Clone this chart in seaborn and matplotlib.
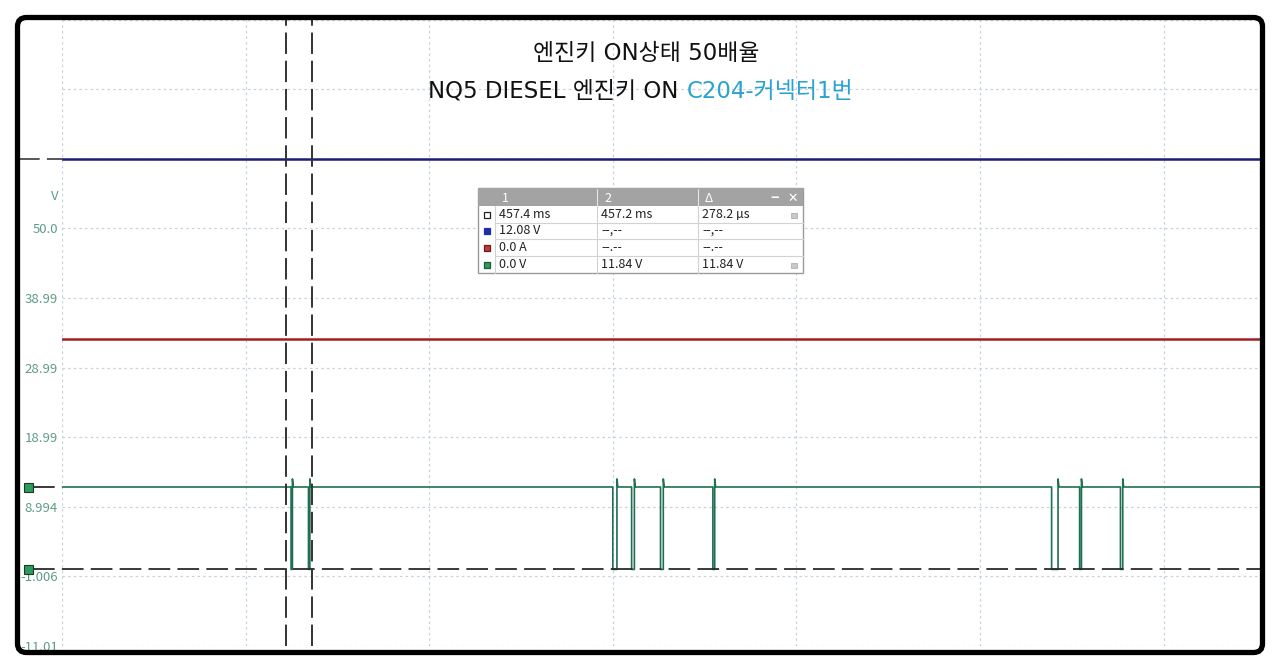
import matplotlib
matplotlib.use("Agg")
import matplotlib.pyplot as plt
from matplotlib.patches import FancyBboxPatch, Rectangle
import numpy as np
import pandas as pd
import seaborn as sns

# ---------------- data ----------------
title_line1 = "엔진키 ON상태 50배율"
title_line2_black = "NQ5 DIESEL 엔진키 ON"
title_line2_blue = "C204-커넥터1번"

time_span_ms = [0.0, 13.05]
blue_level = [58.99, 58.99]
red_level = [33.1, 33.1]
green_high = 11.84
green_low = 0.0
green_overshoot = 13.0
pulse_start_ms = [2.495, 2.685, 6.000, 6.205, 6.520, 7.090, 10.780, 11.085, 11.530]
pulse_end_ms = [2.510, 2.700, 6.045, 6.235, 6.550, 7.110, 10.850, 11.105, 11.555]
cursor_ms = [2.445, 2.723]

ytick_values = [-11.006, -1.006, 8.994, 18.994, 28.994, 38.994, 48.994, 58.994, 68.994, 78.994]
ytick_labels = ["-11.01", "-1.006", "8.994", "18.99", "28.99", "38.99", "50.0", "", "", ""]
xtick_ms = [0, 2, 4, 6, 8, 10, 12]

table_header = ["1", "2", "Δ"]
table_rows = [
    ["457.4 ms", "457.2 ms", "278.2 µs"],
    ["12.08 V", "--,--", "--,--"],
    ["0.0 A", "--.--", "--.--"],
    ["0.0 V", "11.84 V", "11.84 V"],
]

# ---------------- style ----------------
sns.set_style("white")
plt.rcParams['font.family'] = ['DejaVu Sans', 'Noto Sans CJK KR']

W, H = 1280, 669
fig = plt.figure(figsize=(W / 100, H / 100), dpi=100)
fig.patch.set_facecolor("white")

ax_left, ax_right, ax_top, ax_bottom = 62, 1260, 19.6, 646
ax = fig.add_axes([ax_left / W, 1 - ax_bottom / H, (ax_right - ax_left) / W, (ax_bottom - ax_top) / H])
ax.set_xlim(time_span_ms[0], time_span_ms[1])
ax.set_ylim(ytick_values[0], ytick_values[-1])

# green signal with pulses (small overshoot on each rising edge)
gx, gy = [time_span_ms[0]], [green_high]
for s, e in zip(pulse_start_ms, pulse_end_ms):
    gx += [s, s, e, e, e + 0.01]
    gy += [green_high, green_low, green_low, green_overshoot, green_high]
gx.append(time_span_ms[1]); gy.append(green_high)

df_blue = pd.DataFrame({"t": time_span_ms, "v": blue_level})
df_red = pd.DataFrame({"t": time_span_ms, "v": red_level})
df_green = pd.DataFrame({"t": gx, "v": gy})

sns.lineplot(data=df_blue, x="t", y="v", ax=ax, sort=False, estimator=None, color="#1e1e74", lw=1.8)
sns.lineplot(data=df_red, x="t", y="v", ax=ax, sort=False, estimator=None, color="#9e1f24", lw=1.8)
sns.lineplot(data=df_green, x="t", y="v", ax=ax, sort=False, estimator=None, color="#1f7050", lw=1.2)

# zero reference dashed line and short level markers
dash = (0, (12, 4))
ax.plot([-0.316, time_span_ms[1]], [green_low, green_low], color="#2a2a2a", lw=1.3, ls=dash, clip_on=False, zorder=3)
ax.plot([-0.316, 0], [green_high, green_high], color="#2a2a2a", lw=1.3, ls=dash, clip_on=False, zorder=3)
ax.plot([-0.48, 0], [blue_level[0], blue_level[0]], color="#4a4a4a", lw=1.3, ls=dash, clip_on=False, zorder=3)

# cursors
for c in cursor_ms:
    ax.axvline(c, color="#333333", lw=1.4, ls=(0, (11, 3.5)), zorder=4)

ax.set_xticks(xtick_ms)
ax.set_yticks(ytick_values)
ax.set_yticklabels(ytick_labels, family=["Noto Sans CJK KR", "DejaVu Sans"])
ax.tick_params(axis="x", labelbottom=False, length=0)
ax.tick_params(axis="y", length=0, pad=3, labelcolor="#5e9c86", labelsize=9.5)
ax.grid(True, color="#c6d3df", linestyle=(0, (2, 2.5)), lw=0.9)
ax.set_axisbelow(True)
for sp in ax.spines.values():
    sp.set_visible(False)
ax.set_xlabel(""); ax.set_ylabel("")

# ---------------- overlay (pixel coordinates) ----------------
ov = fig.add_axes([0, 0, 1, 1], zorder=10)
ov.set_xlim(0, W); ov.set_ylim(H, 0)
ov.axis("off")

# title
ov.text(646, 53, title_line1, ha="center", va="center", fontsize=16.5, color="#111111")
ov.text(678, 91, title_line2_black, ha="right", va="center", fontsize=16.5, color="#111111")
ov.text(687, 91, title_line2_blue, ha="left", va="center", fontsize=16.5, color="#2ba2d2")

# unit label
ov.text(59, 197, "V", ha="right", va="center", fontsize=9.5, color="#5e9c86",
        family=["Noto Sans CJK KR", "DejaVu Sans"])

# green markers
for yy in (487, 569):
    ov.add_patch(Rectangle((23.5, yy - 4.5), 9, 9, fc="#2e9a5e", ec="#143c22", lw=0.8))

# measurement table
tfont = ["Noto Sans CJK KR", "DejaVu Sans"]
tx0, tx1, ty0 = 478, 803, 188
cols = [478, 495, 597, 698, 803]
rows_y = [206, 223, 239, 256, 273]
ov.add_patch(Rectangle((tx0, ty0), tx1 - tx0, rows_y[-1] - ty0, fc="white", ec="#9a9a9a", lw=1.0, zorder=1))
ov.add_patch(Rectangle((tx0, ty0), tx1 - tx0, rows_y[0] - ty0, fc="#a3a3a3", ec="none", zorder=2))
for cx in cols[2:4]:
    ov.plot([cx, cx], [ty0 + 1, rows_y[0]], color="#e6e6e6", lw=0.8, zorder=3)
for i, h in enumerate(table_header):
    ov.text(cols[i + 1] + 7, 198, h, ha="left", va="center", fontsize=9, color="white", zorder=4, family=tfont)
ov.text(775, 198, "‒", ha="center", va="center", fontsize=9, color="white", fontweight="bold", zorder=4)
ov.text(793, 198, "✕", ha="center", va="center", fontsize=9, color="white", fontweight="bold",
        family="DejaVu Sans", zorder=4)
for ry in rows_y[1:-1]:
    ov.plot([cols[1], tx1], [ry, ry], color="#d2d2d2", lw=0.8, zorder=3)
for cx in cols[1:4]:
    ov.plot([cx, cx], [rows_y[0], rows_y[-1]], color="#d2d2d2", lw=0.8, zorder=3)
icon_fc = ["white", "#1c2fa8", "#c0393e", "#2e9a5e"]
icon_ec = ["#222222", "#1c2fa8", "#6e1a1a", "#1c5a34"]
for r, row in enumerate(table_rows):
    yc = (rows_y[r] + rows_y[r + 1]) / 2
    ov.add_patch(Rectangle((484, yc - 3), 6, 6, fc=icon_fc[r], ec=icon_ec[r], lw=0.9, zorder=4))
    for c, val in enumerate(row):
        ov.text(cols[c + 1] + 4, yc, val, ha="left", va="center", fontsize=9, color="#222222",
                zorder=4, family=tfont)
for r in (0, 3):
    yc = (rows_y[r] + rows_y[r + 1]) / 2
    ov.add_patch(Rectangle((791, yc - 2), 6, 5, fc="#c8c8c8", ec="#b0b0b0", lw=0.6, zorder=4))

# frame
ov.add_patch(FancyBboxPatch((17.5, 17.5), 1245, 635, boxstyle="round,pad=0,rounding_size=9",
                            lw=3.8, ec="black", fc="none", zorder=20))

fig.savefig("out.png", dpi=100)
